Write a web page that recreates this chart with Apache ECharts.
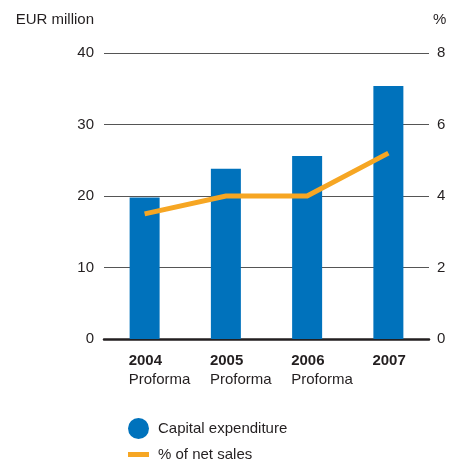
<!DOCTYPE html>
<html>
<head>
<meta charset="utf-8">
<script src="https://cdn.jsdelivr.net/npm/echarts@6/dist/echarts.min.js"></script>
<style>
  html, body { margin: 0; padding: 0; background: #fff; }
  #chart { width: 462px; height: 463px; }
</style>
</head>
<body>
<div id="chart"></div>
<script>
// Capital expenditure (EUR million) and its share of net sales (%)
const years = ['2004', '2005', '2006', '2007'];
const subLabels = ['Proforma', 'Proforma', 'Proforma', ''];
const capex = [19.8, 23.8, 25.6, 35.4];
const pctOfSales = [3.5, 4.0, 4.0, 5.2];
const leftTicks = [0, 40, 10];   // min, max, interval
const rightTicks = [0, 8, 2];

const FONT = '"Liberation Sans", Arial, sans-serif';
const TEXT = '#231f20';
const BLUE = '#0072bc';
const ORANGE = '#f6a623';
const FS = 15;

const chart = echarts.init(document.getElementById('chart'), null, { renderer: 'canvas' });

chart.setOption({
  animation: false,
  textStyle: { fontFamily: FONT, color: TEXT },
  grid: { left: 104, right: 33, top: 53, bottom: 124, containLabel: false },
  legend: [
    {
      data: [{ name: 'Capital expenditure', icon: 'circle' }],
      orient: 'vertical', left: 128, top: 418, padding: 0,
      itemWidth: 21, itemHeight: 21,
      textStyle: { fontFamily: FONT, fontSize: FS, color: TEXT, padding: [0, 0, 0, 4] }
    },
    {
      data: [{ name: '% of net sales', icon: 'rect' }],
      orient: 'vertical', left: 128, top: 447, padding: 0,
      itemWidth: 21, itemHeight: 5,
      textStyle: { fontFamily: FONT, fontSize: FS, color: TEXT, padding: [0, 0, 0, 4] }
    }
  ],
  xAxis: {
    type: 'category',
    data: years,
    axisLine: { show: true, lineStyle: { color: '#231f20', width: 2.5 } },
    axisTick: { show: false },
    axisLabel: {
      margin: 12,
      interval: 0,
      formatter: function (v, i) {
        return '{y|' + v + '}\n{p|' + (subLabels[i] || ' ') + '}';
      },
      rich: {
        y: { fontFamily: FONT, fontSize: FS, fontWeight: 'bold', color: TEXT, width: 32, align: 'left', lineHeight: 19 },
        p: { fontFamily: FONT, fontSize: FS, color: TEXT, width: 32, align: 'left', lineHeight: 19 }
      }
    }
  },
  yAxis: [
    {
      type: 'value',
      min: leftTicks[0], max: leftTicks[1], interval: leftTicks[2],
      name: 'EUR million',
      nameLocation: 'end',
      nameGap: 26,
      nameTextStyle: { fontFamily: FONT, fontSize: FS, color: TEXT, align: 'right', padding: [0, 10, 0, 0] },
      axisLine: { show: false },
      axisTick: { show: false },
      axisLabel: { margin: 10, fontFamily: FONT, fontSize: FS, color: TEXT },
      splitLine: { show: true, lineStyle: { color: '#555', width: 1 } }
    },
    {
      type: 'value',
      min: rightTicks[0], max: rightTicks[1], interval: rightTicks[2],
      name: '%',
      nameLocation: 'end',
      nameGap: 26,
      nameTextStyle: { fontFamily: FONT, fontSize: FS, color: TEXT, align: 'left', padding: [0, 0, 0, 4] },
      position: 'right',
      axisLine: { show: false },
      axisTick: { show: false },
      axisLabel: { margin: 8, fontFamily: FONT, fontSize: FS, color: TEXT },
      splitLine: { show: false }
    }
  ],
  series: [
    {
      name: 'Capital expenditure',
      type: 'bar',
      data: capex,
      barWidth: 30,
      itemStyle: { color: BLUE },
      yAxisIndex: 0,
      z: 2
    },
    {
      name: '% of net sales',
      type: 'line',
      data: pctOfSales,
      yAxisIndex: 1,
      symbol: 'none',
      lineStyle: { color: ORANGE, width: 5, cap: 'butt', join: 'miter' },
      itemStyle: { color: ORANGE },
      z: 3
    }
  ]
});
</script>
</body>
</html>
